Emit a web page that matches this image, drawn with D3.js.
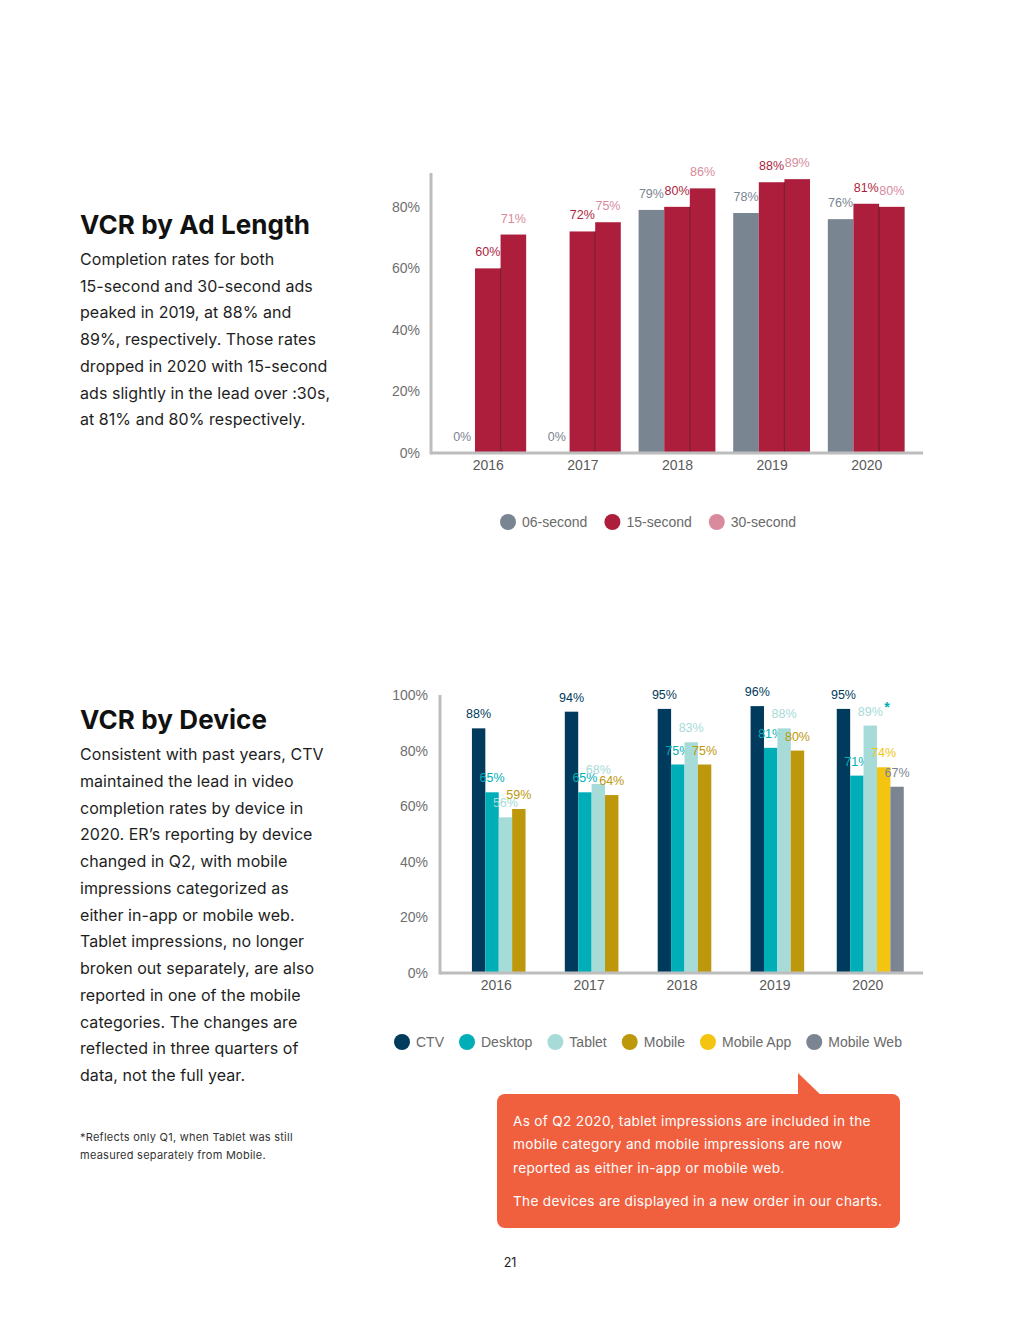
<!DOCTYPE html>
<html>
<head>
<meta charset="utf-8">
<script src="https://cdn.jsdelivr.net/npm/d3@7"></script>
<style>
  body { margin: 0; background: #fff; }
  svg text { font-family: "Liberation Sans", Arial, sans-serif; }
</style>
</head>
<body>
<div id="chart"></div>
<script>
let PAGE_WIDTH = 1020;
let PAGE_HEIGHT = 1320;

// ---- data ----
var years = ["2016", "2017", "2018", "2019", "2020"];

var adLengths = ["06-second", "15-second", "30-second"];
var ad06 = [0, 0, 79, 78, 76];
var ad15 = [60, 72, 80, 88, 81];
var ad30 = [71, 75, 86, 89, 80];

var devices = ["CTV", "Desktop", "Tablet", "Mobile", "Mobile App", "Mobile Web"];
var ctv = [88, 94, 95, 96, 95];
var desktop = [65, 65, 75, 81, 71];
var tablet = [56, 68, 83, 88, 89];
var mobile = [59, 64, 75, 80, null];
var mobileApp = [null, null, null, null, 74];
var mobileWeb = [null, null, null, null, 67];

var yTicksTop = [0, 20, 40, 60, 80];
var yTicksBottom = [0, 20, 40, 60, 80, 100];

var adColors = {"06-second": "#7a8592", "15-second": "#ac1e3c", "30-second": "#d98a9c"};
var adBarColors = {"06-second": "#7a8592", "15-second": "#ac1e3c", "30-second": "#ac1e3c"};
var deviceColors = {
	"CTV": "#003a5c",
	"Desktop": "#00aeb7",
	"Tablet": "#a7dbd8",
	"Mobile": "#bd970c",
	"Mobile App": "#f3c511",
	"Mobile Web": "#7b8592"
};

var svg = d3.select("#chart").append("svg")
	.attr("width", PAGE_WIDTH)
	.attr("height", PAGE_HEIGHT);

// ---- text blocks ----
function textBlock(x, y, title, lines, lh) {
	var g = svg.append("g");
	g.append("text")
		.attr("x", x).attr("y", y)
		.style("font-family", "Inter, sans-serif")
		.style("font-size", "26px").style("font-weight", 700)
		.style("letter-spacing", "0.1px")
		.style("fill", "#111")
		.text(title);
	g.selectAll(".line").data(lines).enter().append("text")
		.attr("class", "line")
		.attr("x", x)
		.attr("y", (d, i) => y + 31 + i * lh)
		.style("font-family", "Inter, sans-serif")
		.style("font-size", "16px")
		.style("letter-spacing", "0.05px")
		.style("fill", "#1e1e1e")
		.text(d => d);
}

textBlock(80, 234, "VCR by Ad Length", [
	"Completion rates for both",
	"15-second and 30-second ads",
	"peaked in 2019, at 88% and",
	"89%, respectively. Those rates",
	"dropped in 2020 with 15-second",
	"ads slightly in the lead over :30s,",
	"at 81% and 80% respectively."
], 26.7);

textBlock(80, 729, "VCR by Device", [
	"Consistent with past years, CTV",
	"maintained the lead in video",
	"completion rates by device in",
	"2020. ER\u2019s reporting by device",
	"changed in Q2, with mobile",
	"impressions categorized as",
	"either in-app or mobile web.",
	"Tablet impressions, no longer",
	"broken out separately, are also",
	"reported in one of the mobile",
	"categories. The changes are",
	"reflected in three quarters of",
	"data, not the full year."
], 26.75);

svg.selectAll(".foot").data(["*Reflects only Q1, when Tablet was still", "measured separately from Mobile."])
	.enter().append("text")
	.attr("x", 80).attr("y", (d, i) => 1141 + i * 18)
	.style("font-family", "Inter, sans-serif")
	.style("font-size", "11px").style("fill", "#333")
	.style("letter-spacing", "0.25px")
	.text(d => d);

// ---- chart helper ----
function drawChart(opts) {
	var x = d3.scalePoint().domain(years).range([opts.left, opts.right]).padding(0.6);
	var y = d3.scaleLinear().domain([0, opts.yMax]).range([opts.bottom, opts.top]);
	var g = svg.append("g");

	// y tick labels
	var ya = g.append("g")
		.attr("transform", "translate(" + opts.left + ",0)")
		.call(d3.axisLeft(y).tickValues(opts.yTicks).tickSize(0).tickPadding(opts.tickPad)
			.tickFormat(d => d + "%"));
	ya.select(".domain").remove();
	ya.selectAll("text").style("font-size", "14px").style("fill", "#6f6f6f")
		.style("font-family", "Liberation Sans, Arial, sans-serif");

	// x labels
	var xa = g.append("g")
		.attr("transform", "translate(0," + opts.bottom + ")")
		.call(d3.axisBottom(x).tickSize(0).tickPadding(7));
	xa.select(".domain").remove();
	xa.selectAll("text").style("font-size", "14px").style("fill", "#5a5a5a")
		.style("font-family", "Liberation Sans, Arial, sans-serif");

	// bars
	years.forEach(function (yr, i) {
		var present = opts.series.filter(s => s.values[i] !== null);
		var n = present.length;
		var x0 = x(yr) + opts.shift - n * opts.barW / 2;
		present.forEach(function (s, j) {
			var v = s.values[i];
			var bx = x0 + j * opts.barW;
			g.append("rect")
				.attr("x", bx).attr("y", y(v))
				.attr("width", opts.barW).attr("height", opts.bottom - y(v))
				.style("fill", opts.barColor(s.name));
			if (opts.divider && s.name === "30-second" && v > 0) {
				g.append("line")
					.attr("x1", bx).attr("x2", bx)
					.attr("y1", Math.max(y(v), y(s.prev[i]))).attr("y2", opts.bottom)
					.style("stroke", "#5a1020").style("stroke-width", 0.8);
			}
			g.append("text")
				.attr("x", bx + opts.barW / 2)
				.attr("y", y(v) - opts.labelGap)
				.attr("text-anchor", "middle")
				.style("font-size", opts.labelSize)
				.style("fill", opts.labelColor(s.name))
				.text(v + "%");
			if (s.star && s.star[i]) {
				g.append("text")
					.attr("x", bx + opts.barW / 2 + 14)
					.attr("y", y(v) - opts.labelGap - 4)
					.style("font-size", "14px").style("font-weight", 700)
					.style("fill", "#00aeb7")
					.text("*");
			}
		});
	});

	// axis lines
	g.append("line")
		.attr("x1", opts.left).attr("x2", opts.left)
		.attr("y1", y(opts.yMax)).attr("y2", opts.bottom + 1.5)
		.style("stroke", "#bdbdbd").style("stroke-width", 3);
	g.append("line")
		.attr("x1", opts.left).attr("x2", opts.right)
		.attr("y1", opts.bottom).attr("y2", opts.bottom)
		.style("stroke", "#bdbdbd").style("stroke-width", 3);
}

function drawLegend(names, colors, x, y, gap) {
	var g = svg.append("g").attr("transform", "translate(" + x + "," + y + ")");
	var cx = 8;
	names.forEach(function (n) {
		g.append("circle").attr("cx", cx).attr("cy", 0).attr("r", 8).style("fill", colors[n]);
		var t = g.append("text")
			.attr("x", cx + 14).attr("y", 5)
			.style("font-size", "14px").style("fill", "#6a6a6a")
			.text(n);
		var w = t.node().getComputedTextLength();
		cx = cx + 14 + w + gap;
	});
}

// ---- chart 1: VCR by ad length ----
drawChart({
	left: 431, right: 923, top: 173, bottom: 453, yMax: 91,
	yTicks: yTicksTop, tickPad: 11, barW: 25.6, labelGap: 12, shift: 0,
	labelSize: "12.5px", divider: true,
	series: [
		{name: "06-second", values: ad06},
		{name: "15-second", values: ad15},
		{name: "30-second", values: ad30, prev: ad15}
	],
	barColor: n => adBarColors[n],
	labelColor: n => adColors[n]
});
drawLegend(adLengths, adColors, 500, 522, 25);

// ---- chart 2: VCR by device ----
drawChart({
	left: 440, right: 923, top: 695, bottom: 973, yMax: 100,
	yTicks: yTicksBottom, tickPad: 12, barW: 13.4, labelGap: 10, shift: 3,
	labelSize: "12.5px", divider: false,
	series: [
		{name: "CTV", values: ctv},
		{name: "Desktop", values: desktop},
		{name: "Tablet", values: tablet, star: [false, false, false, false, true]},
		{name: "Mobile", values: mobile},
		{name: "Mobile App", values: mobileApp},
		{name: "Mobile Web", values: mobileWeb}
	],
	barColor: n => deviceColors[n],
	labelColor: n => deviceColors[n]
});
drawLegend(devices, deviceColors, 394, 1042, 23);

// ---- callout ----
var note = svg.append("g");
note.append("path")
	.attr("d", "M798,1073 L798,1100 L826,1100 Z")
	.style("fill", "#f0603f");
note.append("rect")
	.attr("x", 497).attr("y", 1094).attr("width", 403).attr("height", 134)
	.attr("rx", 8)
	.style("fill", "#f0603f");
note.selectAll(".note-line").data([
	{t: "As of Q2 2020, tablet impressions are included in the", y: 1126},
	{t: "mobile category and mobile impressions are now", y: 1149},
	{t: "reported as either in-app or mobile web.", y: 1173},
	{t: "The devices are displayed in a new order in our charts.", y: 1206}
]).enter().append("text")
	.attr("x", 513).attr("y", d => d.y)
	.style("font-family", "Inter, sans-serif")
	.style("font-size", "13.6px")
	.style("letter-spacing", "0.32px")
	.style("fill", "#fff")
	.text(d => d.t);

svg.append("text")
	.attr("x", 510).attr("y", 1267)
	.attr("text-anchor", "middle")
	.style("font-family", "Inter, sans-serif")
	.style("font-size", "12.5px").style("fill", "#222")
	.text("21");
</script>
</body>
</html>
